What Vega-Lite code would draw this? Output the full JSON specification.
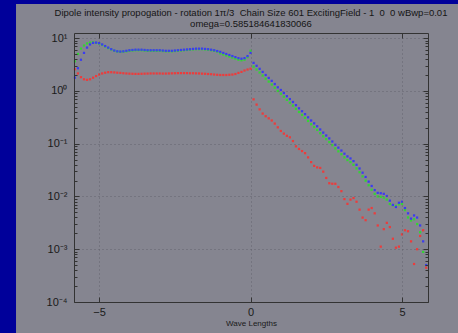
{
"$schema": "https://vega.github.io/schema/vega-lite/v6.json",
"width": 354, "height": 269,
"autosize": "none",
"padding": {"left": 74, "top": 33, "right": 30, "bottom": 31},
"background": "#00009a",
"config": {"view": {"stroke": null}, "font": "Liberation Sans"},
"title": {"text": ["Dipole intensity propogation - rotation 1\u03c0/3 \u00a0Chain Size 601 ExcitingField - 1 \u00a00 \u00a00 wBwp=0.01", "omega=0.585184641830066"], "fontSize": 9.5, "fontWeight": "normal", "color": "#151515", "offset": -25, "lineHeight": 11.5, "anchor": "middle", "font": "Liberation Sans"},
"resolve": {"axis": {"x": "independent", "y": "independent"}},
"layer": [
{"data": {"values": [{}]},
 "mark": {"type": "rect", "color": "#858590"},
 "encoding": {
  "x": {"datum": -7.745, "type": "quantitative", "scale": {"domain": [-5.83, 5.86], "nice": false, "zero": false},
   "axis": {"orient": "top", "values": [-5, 0, 5], "labels": false, "tickSize": -5, "grid": false, "domainColor": "#333", "tickColor": "#333", "zindex": 1, "title": null}},
  "x2": {"datum": 7.5},
  "y": {"datum": 0.00002, "type": "quantitative", "scale": {"type": "log", "domain": [0.0001, 12.5], "nice": false},
   "axis": {"orient": "right", "values": [0.0001,0.0002,0.0003,0.0004,0.0005,0.0006,0.0007,0.0008,0.0009,0.001,0.002,0.003,0.004,0.005,0.006,0.007,0.008,0.009,0.01,0.02,0.03,0.04,0.05,0.06,0.07,0.08,0.09,0.1,0.2,0.3,0.4,0.5,0.6,0.7,0.8,0.9,1,2,3,4,5,6,7,8,9,10],
    "labels": false, "grid": false, "title": null, "domainColor": "#333", "tickColor": "#333", "zindex": 1,
    "tickSize": {"condition": {"test": "indexof([10,1,0.1,0.01,0.001,0.0001], datum.value) >= 0", "value": -5}, "value": -3}}},
  "y2": {"datum": 44.3}
 }},
{"data": {"values": [
{"s":"g","x":-5.8,"v":3.63},{"s":"g","x":-5.7,"v":5.01},{"s":"g","x":-5.6,"v":6.31},{"s":"g","x":-5.5,"v":7.24},{"s":"g","x":-5.4,"v":7.94},{"s":"g","x":-5.3,"v":8.22},{"s":"g","x":-5.2,"v":8.32},{"s":"g","x":-5.1,"v":8.13},{"s":"g","x":-5.0,"v":7.85},{"s":"g","x":-4.9,"v":7.41},{"s":"g","x":-4.8,"v":6.92},{"s":"g","x":-4.7,"v":6.46},{"s":"g","x":-4.6,"v":6.10},{"s":"g","x":-4.5,"v":5.75},{"s":"g","x":-4.4,"v":5.56},{"s":"g","x":-4.3,"v":5.50},{"s":"g","x":-4.2,"v":5.56},{"s":"g","x":-4.1,"v":5.62},{"s":"g","x":-4.0,"v":5.75},{"s":"g","x":-3.9,"v":5.82},{"s":"g","x":-3.8,"v":5.89},{"s":"g","x":-3.7,"v":5.89},{"s":"g","x":-3.6,"v":5.89},{"s":"g","x":-3.5,"v":5.82},{"s":"g","x":-3.4,"v":5.75},{"s":"g","x":-3.3,"v":5.75},{"s":"g","x":-3.2,"v":5.75},{"s":"g","x":-3.1,"v":5.75},{"s":"g","x":-3.0,"v":5.75},{"s":"g","x":-2.9,"v":5.69},{"s":"g","x":-2.8,"v":5.62},{"s":"g","x":-2.7,"v":5.62},{"s":"g","x":-2.6,"v":5.62},{"s":"g","x":-2.5,"v":5.69},{"s":"g","x":-2.4,"v":5.75},{"s":"g","x":-2.3,"v":5.82},{"s":"g","x":-2.2,"v":5.89},{"s":"g","x":-2.1,"v":5.96},{"s":"g","x":-2.0,"v":6.03},{"s":"g","x":-1.9,"v":6.10},{"s":"g","x":-1.8,"v":6.17},{"s":"g","x":-1.7,"v":6.17},{"s":"g","x":-1.6,"v":6.17},{"s":"g","x":-1.5,"v":6.10},{"s":"g","x":-1.4,"v":6.03},{"s":"g","x":-1.3,"v":5.89},{"s":"g","x":-1.2,"v":5.75},{"s":"g","x":-1.1,"v":5.56},{"s":"g","x":-1.0,"v":5.13},{"s":"g","x":-0.9,"v":4.90},{"s":"g","x":-0.8,"v":4.68},{"s":"g","x":-0.7,"v":4.47},{"s":"g","x":-0.6,"v":4.27},{"s":"g","x":-0.5,"v":4.07},{"s":"g","x":-0.4,"v":3.89},{"s":"g","x":-0.3,"v":3.80},{"s":"g","x":-0.2,"v":3.89},{"s":"g","x":-0.1,"v":4.37},{"s":"g","x":0.0,"v":5.75},
{"s":"g","x":0.1,"v":2.88},{"s":"g","x":0.2,"v":2.54},{"s":"g","x":0.3,"v":2.23},{"s":"g","x":0.4,"v":1.95},{"s":"g","x":0.5,"v":1.70},{"s":"g","x":0.6,"v":1.50},{"s":"g","x":0.7,"v":1.32},{"s":"g","x":0.8,"v":1.15},{"s":"g","x":0.9,"v":0.996},{"s":"g","x":1.0,"v":0.885},{"s":"g","x":1.1,"v":0.776},{"s":"g","x":1.2,"v":0.676},{"s":"g","x":1.3,"v":0.596},{"s":"g","x":1.4,"v":0.525},{"s":"g","x":1.5,"v":0.457},{"s":"g","x":1.6,"v":0.398},{"s":"g","x":1.7,"v":0.351},{"s":"g","x":1.8,"v":0.309},{"s":"g","x":1.9,"v":0.269},{"s":"g","x":2.0,"v":0.234},{"s":"g","x":2.1,"v":0.207},{"s":"g","x":2.2,"v":0.182},{"s":"g","x":2.3,"v":0.158},{"s":"g","x":2.4,"v":0.138},{"s":"g","x":2.5,"v":0.122},{"s":"g","x":2.6,"v":0.107},{"s":"g","x":2.7,"v":0.0936},{"s":"g","x":2.8,"v":0.0813},{"s":"g","x":2.9,"v":0.0716},{"s":"g","x":3.0,"v":0.0631},{"s":"g","x":3.1,"v":0.055},{"s":"g","x":3.2,"v":0.0489},{"s":"g","x":3.3,"v":0.0447},{"s":"g","x":3.4,"v":0.0398},{"s":"g","x":3.5,"v":0.0339},{"s":"g","x":3.6,"v":0.0288},{"s":"g","x":3.7,"v":0.024},{"s":"g","x":3.8,"v":0.0199},{"s":"g","x":3.9,"v":0.0163},{"s":"g","x":4.0,"v":0.0134},{"s":"g","x":4.1,"v":0.0112},{"s":"g","x":4.2,"v":0.0100},{"s":"g","x":4.3,"v":0.0098},{"s":"g","x":4.4,"v":0.0095},{"s":"g","x":4.5,"v":0.0087},{"s":"g","x":4.6,"v":0.0072},{"s":"g","x":4.7,"v":0.0068},{"s":"g","x":4.8,"v":0.0066},{"s":"g","x":4.9,"v":0.0071},{"s":"g","x":5.0,"v":0.0072},{"s":"g","x":5.1,"v":0.0055},{"s":"g","x":5.2,"v":0.0040},{"s":"g","x":5.3,"v":0.0035},{"s":"g","x":5.4,"v":0.0037},{"s":"g","x":5.5,"v":0.0030},{"s":"g","x":5.6,"v":0.0021},{"s":"g","x":5.7,"v":0.00089},{"s":"g","x":5.8,"v":0.00050},
{"s":"b","x":-5.8,"v":1.78},{"s":"b","x":-5.7,"v":2.69},{"s":"b","x":-5.6,"v":3.89},{"s":"b","x":-5.5,"v":5.25},{"s":"b","x":-5.4,"v":6.61},{"s":"b","x":-5.3,"v":7.59},{"s":"b","x":-5.2,"v":8.13},{"s":"b","x":-5.1,"v":8.22},{"s":"b","x":-5.0,"v":8.04},{"s":"b","x":-4.9,"v":7.59},{"s":"b","x":-4.8,"v":7.08},{"s":"b","x":-4.7,"v":6.61},{"s":"b","x":-4.6,"v":6.17},{"s":"b","x":-4.5,"v":5.82},{"s":"b","x":-4.4,"v":5.62},{"s":"b","x":-4.3,"v":5.56},{"s":"b","x":-4.2,"v":5.62},{"s":"b","x":-4.1,"v":5.75},{"s":"b","x":-4.0,"v":5.89},{"s":"b","x":-3.9,"v":5.96},{"s":"b","x":-3.8,"v":6.03},{"s":"b","x":-3.7,"v":6.03},{"s":"b","x":-3.6,"v":6.03},{"s":"b","x":-3.5,"v":5.96},{"s":"b","x":-3.4,"v":5.89},{"s":"b","x":-3.3,"v":5.89},{"s":"b","x":-3.2,"v":5.89},{"s":"b","x":-3.1,"v":5.89},{"s":"b","x":-3.0,"v":5.89},{"s":"b","x":-2.9,"v":5.82},{"s":"b","x":-2.8,"v":5.75},{"s":"b","x":-2.7,"v":5.75},{"s":"b","x":-2.6,"v":5.75},{"s":"b","x":-2.5,"v":5.82},{"s":"b","x":-2.4,"v":5.89},{"s":"b","x":-2.3,"v":5.96},{"s":"b","x":-2.2,"v":6.03},{"s":"b","x":-2.1,"v":6.10},{"s":"b","x":-2.0,"v":6.17},{"s":"b","x":-1.9,"v":6.24},{"s":"b","x":-1.8,"v":6.31},{"s":"b","x":-1.7,"v":6.31},{"s":"b","x":-1.6,"v":6.31},{"s":"b","x":-1.5,"v":6.24},{"s":"b","x":-1.4,"v":6.17},{"s":"b","x":-1.3,"v":6.03},{"s":"b","x":-1.2,"v":5.89},{"s":"b","x":-1.1,"v":5.69},{"s":"b","x":-1.0,"v":5.50},{"s":"b","x":-0.9,"v":5.25},{"s":"b","x":-0.8,"v":5.01},{"s":"b","x":-0.7,"v":4.79},{"s":"b","x":-0.6,"v":4.57},{"s":"b","x":-0.5,"v":4.37},{"s":"b","x":-0.4,"v":4.17},{"s":"b","x":-0.3,"v":4.07},{"s":"b","x":-0.2,"v":4.17},{"s":"b","x":-0.1,"v":4.57},{"s":"b","x":0.0,"v":5.25},
{"s":"b","x":0.1,"v":3.39},{"s":"b","x":0.2,"v":2.99},{"s":"b","x":0.3,"v":2.62},{"s":"b","x":0.4,"v":2.29},{"s":"b","x":0.5,"v":2.00},{"s":"b","x":0.6,"v":1.76},{"s":"b","x":0.7,"v":1.55},{"s":"b","x":0.8,"v":1.35},{"s":"b","x":0.9,"v":1.17},{"s":"b","x":1.0,"v":1.04},{"s":"b","x":1.1,"v":0.912},{"s":"b","x":1.2,"v":0.794},{"s":"b","x":1.3,"v":0.700},{"s":"b","x":1.4,"v":0.617},{"s":"b","x":1.5,"v":0.537},{"s":"b","x":1.6,"v":0.468},{"s":"b","x":1.7,"v":0.412},{"s":"b","x":1.8,"v":0.363},{"s":"b","x":1.9,"v":0.316},{"s":"b","x":2.0,"v":0.275},{"s":"b","x":2.1,"v":0.243},{"s":"b","x":2.2,"v":0.214},{"s":"b","x":2.3,"v":0.186},{"s":"b","x":2.4,"v":0.162},{"s":"b","x":2.5,"v":0.143},{"s":"b","x":2.6,"v":0.126},{"s":"b","x":2.7,"v":0.110},{"s":"b","x":2.8,"v":0.0955},{"s":"b","x":2.9,"v":0.0841},{"s":"b","x":3.0,"v":0.0741},{"s":"b","x":3.1,"v":0.0646},{"s":"b","x":3.2,"v":0.0575},{"s":"b","x":3.3,"v":0.0525},{"s":"b","x":3.4,"v":0.0468},{"s":"b","x":3.5,"v":0.0398},{"s":"b","x":3.6,"v":0.0339},{"s":"b","x":3.7,"v":0.0282},{"s":"b","x":3.8,"v":0.0234},{"s":"b","x":3.9,"v":0.0191},{"s":"b","x":4.0,"v":0.0158},{"s":"b","x":4.1,"v":0.0132},{"s":"b","x":4.2,"v":0.0117},{"s":"b","x":4.3,"v":0.0115},{"s":"b","x":4.4,"v":0.0112},{"s":"b","x":4.5,"v":0.0102},{"s":"b","x":4.6,"v":0.00832},{"s":"b","x":4.7,"v":0.00692},{"s":"b","x":4.8,"v":0.00631},{"s":"b","x":4.9,"v":0.00759},{"s":"b","x":5.0,"v":0.00794},{"s":"b","x":5.1,"v":0.00603},{"s":"b","x":5.2,"v":0.00479},{"s":"b","x":5.3,"v":0.00380},{"s":"b","x":5.4,"v":0.00437},{"s":"b","x":5.5,"v":0.00398},{"s":"b","x":5.6,"v":0.00282},{"s":"b","x":5.7,"v":0.00141},{"s":"b","x":5.8,"v":0.000501},
{"s":"r","x":-5.8,"v":2.57},{"s":"r","x":-5.7,"v":2.14},{"s":"r","x":-5.6,"v":1.82},{"s":"r","x":-5.5,"v":1.66},{"s":"r","x":-5.4,"v":1.62},{"s":"r","x":-5.3,"v":1.66},{"s":"r","x":-5.2,"v":1.78},{"s":"r","x":-5.1,"v":1.91},{"s":"r","x":-5.0,"v":2.04},{"s":"r","x":-4.9,"v":2.14},{"s":"r","x":-4.8,"v":2.21},{"s":"r","x":-4.7,"v":2.26},{"s":"r","x":-4.6,"v":2.26},{"s":"r","x":-4.5,"v":2.24},{"s":"r","x":-4.4,"v":2.21},{"s":"r","x":-4.3,"v":2.19},{"s":"r","x":-4.2,"v":2.16},{"s":"r","x":-4.1,"v":2.14},{"s":"r","x":-4.0,"v":2.12},{"s":"r","x":-3.9,"v":2.11},{"s":"r","x":-3.8,"v":2.10},{"s":"r","x":-3.7,"v":2.10},{"s":"r","x":-3.6,"v":2.11},{"s":"r","x":-3.5,"v":2.12},{"s":"r","x":-3.4,"v":2.13},{"s":"r","x":-3.3,"v":2.14},{"s":"r","x":-3.2,"v":2.14},{"s":"r","x":-3.1,"v":2.14},{"s":"r","x":-3.0,"v":2.14},{"s":"r","x":-2.9,"v":2.13},{"s":"r","x":-2.8,"v":2.13},{"s":"r","x":-2.7,"v":2.14},{"s":"r","x":-2.6,"v":2.15},{"s":"r","x":-2.5,"v":2.16},{"s":"r","x":-2.4,"v":2.17},{"s":"r","x":-2.3,"v":2.17},{"s":"r","x":-2.2,"v":2.17},{"s":"r","x":-2.1,"v":2.17},{"s":"r","x":-2.0,"v":2.16},{"s":"r","x":-1.9,"v":2.16},{"s":"r","x":-1.8,"v":2.15},{"s":"r","x":-1.7,"v":2.14},{"s":"r","x":-1.6,"v":2.12},{"s":"r","x":-1.5,"v":2.11},{"s":"r","x":-1.4,"v":2.09},{"s":"r","x":-1.3,"v":2.07},{"s":"r","x":-1.2,"v":2.04},{"s":"r","x":-1.1,"v":2.02},{"s":"r","x":-1.0,"v":2.00},{"s":"r","x":-0.9,"v":2.00},{"s":"r","x":-0.8,"v":2.00},{"s":"r","x":-0.7,"v":2.02},{"s":"r","x":-0.6,"v":2.04},{"s":"r","x":-0.5,"v":2.09},{"s":"r","x":-0.4,"v":2.19},{"s":"r","x":-0.3,"v":2.29},{"s":"r","x":-0.2,"v":2.43},{"s":"r","x":-0.1,"v":2.54},{"s":"r","x":0.0,"v":2.63},
{"s":"r","x":0.1,"v":0.692},{"s":"r","x":0.2,"v":0.550},{"s":"r","x":0.3,"v":0.447},{"s":"r","x":0.4,"v":0.372},{"s":"r","x":0.5,"v":0.331},{"s":"r","x":0.6,"v":0.302},{"s":"r","x":0.7,"v":0.275},{"s":"r","x":0.8,"v":0.240},{"s":"r","x":0.9,"v":0.204},{"s":"r","x":1.0,"v":0.174},{"s":"r","x":1.1,"v":0.155},{"s":"r","x":1.2,"v":0.141},{"s":"r","x":1.3,"v":0.132},{"s":"r","x":1.4,"v":0.112},{"s":"r","x":1.5,"v":0.0891},{"s":"r","x":1.6,"v":0.0794},{"s":"r","x":1.7,"v":0.0724},{"s":"r","x":1.8,"v":0.0661},{"s":"r","x":1.9,"v":0.0550},{"s":"r","x":2.0,"v":0.0447},{"s":"r","x":2.1,"v":0.0380},{"s":"r","x":2.2,"v":0.0355},{"s":"r","x":2.3,"v":0.0347},{"s":"r","x":2.4,"v":0.0295},{"s":"r","x":2.5,"v":0.0224},{"s":"r","x":2.6,"v":0.0178},{"s":"r","x":2.7,"v":0.0174},{"s":"r","x":2.8,"v":0.0174},{"s":"r","x":2.9,"v":0.0151},{"s":"r","x":3.0,"v":0.0126},{"s":"r","x":3.1,"v":0.00891},{"s":"r","x":3.2,"v":0.00724},{"s":"r","x":3.3,"v":0.00871},{"s":"r","x":3.4,"v":0.00933},{"s":"r","x":3.5,"v":0.00794},{"s":"r","x":3.6,"v":0.00562},{"s":"r","x":3.7,"v":0.00398},{"s":"r","x":3.8,"v":0.00355},{"s":"r","x":3.9,"v":0.00562},{"s":"r","x":4.0,"v":0.00603},{"s":"r","x":4.1,"v":0.00479},{"s":"r","x":4.2,"v":0.00282},{"s":"r","x":4.3,"v":0.00112},{"s":"r","x":4.4,"v":0.00240},{"s":"r","x":4.5,"v":0.00316},{"s":"r","x":4.6,"v":0.00263},{"s":"r","x":4.7,"v":0.00158},{"s":"r","x":4.8,"v":0.00107},{"s":"r","x":4.9,"v":0.00112},{"s":"r","x":5.0,"v":0.00191},{"s":"r","x":5.1,"v":0.00229},{"s":"r","x":5.2,"v":0.00219},{"s":"r","x":5.3,"v":0.00141},{"s":"r","x":5.4,"v":0.000525},{"s":"r","x":5.5,"v":0.00100},{"s":"r","x":5.6,"v":0.00178},{"s":"r","x":5.7,"v":0.00229},{"s":"r","x":5.8,"v":0.000447}
]},
 "mark": {"type": "square", "size": 5, "opacity": 1},
 "encoding": {
  "x": {"field": "x", "type": "quantitative",
   "axis": {"orient": "bottom", "values": [-5, 0, 5], "tickSize": -5, "grid": true, "gridDash": [1, 3], "gridColor": "#5c5c66", "gridWidth": 0.8, "domainColor": "#333", "tickColor": "#333", "labelFontSize": 11, "labelColor": "#1a1a1a", "labelPadding": 9, "title": "Wave Lengths", "titleFontSize": 8, "titleFontWeight": "normal", "titleColor": "#1a1a1a", "titlePadding": 2, "zindex": 1}},
  "y": {"field": "v", "type": "quantitative",
   "axis": {"orient": "left", "values": [0.0001,0.0002,0.0003,0.0004,0.0005,0.0006,0.0007,0.0008,0.0009,0.001,0.002,0.003,0.004,0.005,0.006,0.007,0.008,0.009,0.01,0.02,0.03,0.04,0.05,0.06,0.07,0.08,0.09,0.1,0.2,0.3,0.4,0.5,0.6,0.7,0.8,0.9,1,2,3,4,5,6,7,8,9,10],
    "labelExpr": "datum.value==10?'10\u00b9':datum.value==1?'10\u2070':datum.value==0.1?'10\u207b\u00b9':datum.value==0.01?'10\u207b\u00b2':datum.value==0.001?'10\u207b\u00b3':datum.value==0.0001?'10\u207b\u2074':''",
    "labelFontSize": 11, "labelColor": "#1a1a1a", "labelPadding": 12, "title": null, "domainColor": "#333", "tickColor": "#333", "zindex": 1,
    "grid": true, "gridDash": [1, 3], "gridColor": "#5c5c66", "gridWidth": 0.8,
    "gridOpacity": {"condition": {"test": "indexof([10,1,0.1,0.01,0.001,0.0001], datum.value) >= 0", "value": 1}, "value": 0},
    "tickSize": {"condition": {"test": "indexof([10,1,0.1,0.01,0.001,0.0001], datum.value) >= 0", "value": -5}, "value": -3}}},
  "color": {"field": "s", "type": "nominal", "scale": {"domain": ["g", "b", "r"], "range": ["#34d434", "#3c3cf0", "#ec3c3c"]}, "legend": null}
 }}
]
}
